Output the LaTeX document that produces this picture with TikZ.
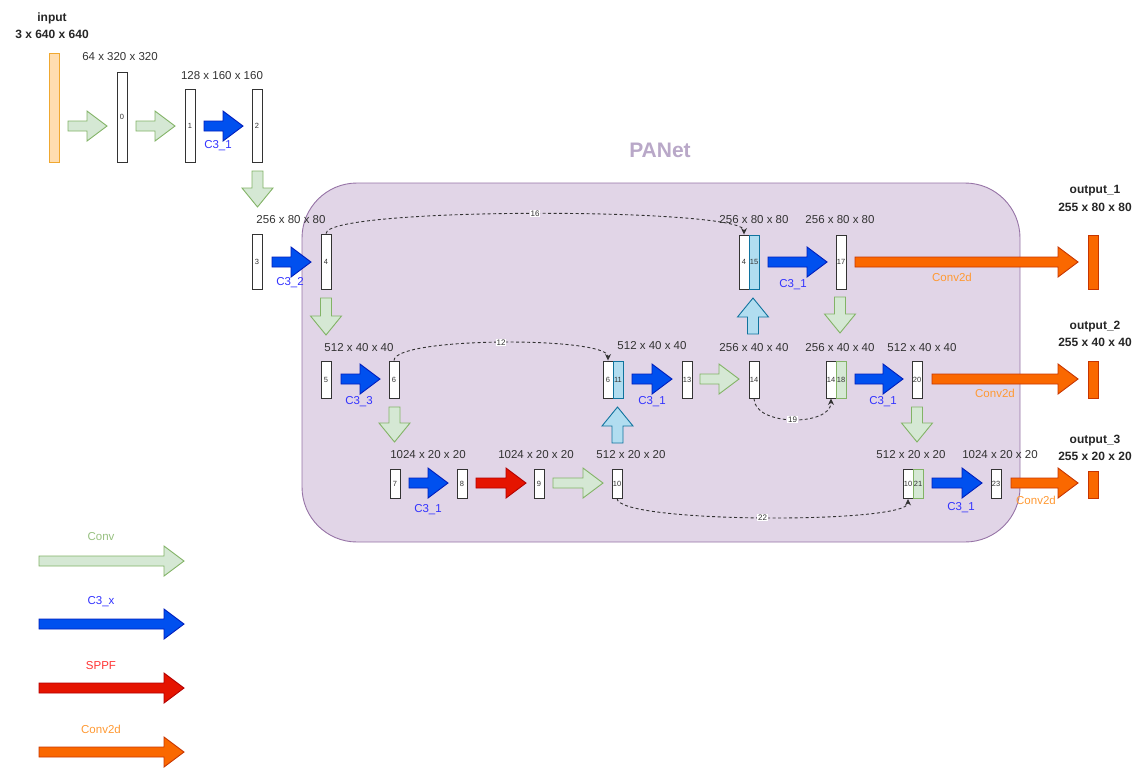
\documentclass[tikz,border=0pt]{standalone}
\usepackage{fontspec}
\setmainfont{Liberation Sans}
\usetikzlibrary{arrows.meta}
\definecolor{grfill}{HTML}{D5E8D4}
\definecolor{grline}{HTML}{82B366}
\definecolor{blfill}{HTML}{0050EF}
\definecolor{blline}{HTML}{001DBC}
\definecolor{rdfill}{HTML}{E51400}
\definecolor{rdline}{HTML}{B20000}
\definecolor{orfill}{HTML}{FA6800}
\definecolor{orline}{HTML}{C73500}
\definecolor{lbfill}{HTML}{B1DDF0}
\definecolor{lbline}{HTML}{10739E}
\definecolor{pafill}{HTML}{E1D5E7}
\definecolor{paline}{HTML}{9673A6}
\definecolor{patext}{HTML}{B9A8C8}
\definecolor{txt}{HTML}{333333}
\definecolor{inpfill}{HTML}{FFDDB0}
\definecolor{inpline}{HTML}{F0A830}
\definecolor{c3txt}{HTML}{3333FF}
\definecolor{convtxt}{HTML}{97C080}
\definecolor{spptxt}{HTML}{FF3333}
\definecolor{c2dtxt}{HTML}{FF9933}
\newcommand{\rarrow}[4][]{\draw[#1] (#2,#4-5) -- (#3-20,#4-5) -- (#3-20,#4-15) -- (#3,#4) -- (#3-20,#4+15) -- (#3-20,#4+5) -- (#2,#4+5) -- cycle;}
\newcommand{\darrow}[4][]{\draw[#1] (#2-5.5,#3) -- (#2+5.5,#3) -- (#2+5.5,#4-19) -- (#2+15.5,#4-19) -- (#2,#4) -- (#2-15.5,#4-19) -- (#2-5.5,#4-19) -- cycle;}
\newcommand{\uarrow}[4][]{\draw[#1] (#2-5.5,#4) -- (#2+5.5,#4) -- (#2+5.5,#3+19) -- (#2+15.5,#3+19) -- (#2,#3) -- (#2-15.5,#3+19) -- (#2-5.5,#3+19) -- cycle;}
\begin{document}
\begin{tikzpicture}[x=1pt,y=-1pt,
  conv/.style={fill=grfill,draw=grline,line width=0.9pt},
  cthree/.style={fill=blfill,draw=blline,line width=0.9pt},
  sppf/.style={fill=rdfill,draw=rdline,line width=0.9pt},
  ctwod/.style={fill=orfill,draw=orline,line width=0.9pt},
  upst/.style={fill=lbfill,draw=lbline,line width=0.9pt},
  box/.style={draw=txt,fill=white,line width=0.9pt,inner sep=0pt,minimum width=10pt,font=\fontsize{7.5}{7.5}\selectfont,text=txt},
  bluebox/.style={box,fill=lbfill,draw=lbline},
  greenbox/.style={box,fill=grfill,draw=grline},
  outbox/.style={box,fill=orfill,draw=orline},
  size/.style={font=\fontsize{11.5}{13}\selectfont,text=txt,inner sep=0pt},
  head/.style={font=\bfseries\fontsize{12}{13}\selectfont,text=black!85,inner sep=0pt},
  clab/.style={font=\fontsize{11.5}{13}\selectfont,text=c3txt,inner sep=0pt},
  olab/.style={font=\fontsize{11.5}{13}\selectfont,text=c2dtxt,inner sep=0pt},
  skip/.style={dash pattern=on 3pt off 2.5pt,draw=black!80,line width=0.9pt},
  tip/.style={-{Stealth[length=6.5pt,width=6pt]}},
  skl/.style={fill=white,inner sep=0.6pt,font=\fontsize{8}{8}\selectfont,text=txt}]
\useasboundingbox (0,0) rectangle (1145,777);
% PANet area
\node[font=\bfseries\fontsize{21}{24}\selectfont,text=patext,inner sep=0pt] (panet) at (660,150) {PANet};
\draw[fill=pafill,draw=paline,line width=0.9pt,rounded corners=55pt] (302,183) rectangle (1020,542);
% texts top
\node[head] (tin1) at (52,18) {input};
\node[head] (tin2) at (52,34) {3 x 640 x 640};
\node[size] (s0) at (120,57) {64 x 320 x 320};
\node[size] (s1) at (222,76) {128 x 160 x 160};
\node[size] (s3) at (291,220) {256 x 80 x 80};
\node[size] (s5) at (359,348) {512 x 40 x 40};
\node[size] (s11) at (652,346) {512 x 40 x 40};
\node[size] (s7) at (428,455) {1024 x 20 x 20};
\node[size] (s9) at (536,455) {1024 x 20 x 20};
\node[size] (s10) at (631,455) {512 x 20 x 20};
\node[size] (s15) at (754,220) {256 x 80 x 80};
\node[size] (s17) at (840,220) {256 x 80 x 80};
\node[size] (s14) at (754,348) {256 x 40 x 40};
\node[size] (s18) at (840,348) {256 x 40 x 40};
\node[size] (s20) at (922,348) {512 x 40 x 40};
\node[size] (s21) at (911,455) {512 x 20 x 20};
\node[size] (s23) at (1000,455) {1024 x 20 x 20};
\node[head] (o1a) at (1095,191) {output\_1};
\node[head] (o1b) at (1095,207) {255 x 80 x 80};
\node[head] (o2a) at (1095,327) {output\_2};
\node[head] (o2b) at (1095,342) {255 x 40 x 40};
\node[head] (o3a) at (1095,441) {output\_3};
\node[head] (o3b) at (1095,456) {255 x 20 x 20};
% feature maps
\node[box,fill=inpfill,draw=inpline,minimum height=109pt] (inp) at (54,107.5) {};
\node[box,minimum height=90pt] (b0) at (122,117) {0};
\node[box,minimum height=73pt] (b1) at (190,125.5) {1};
\node[box,minimum height=73pt] (b2) at (257,125.5) {2};
\node[box,minimum height=55pt] (b3) at (257,261.5) {3};
\node[box,minimum height=55pt] (b4) at (326,261.5) {4};
\node[box,minimum height=37pt] (b5) at (326,379.5) {5};
\node[box,minimum height=37pt] (b6) at (394,379.5) {6};
\node[box,minimum height=29pt] (b7) at (395,483.5) {7};
\node[box,minimum height=29pt] (b8) at (462,483.5) {8};
\node[box,minimum height=29pt] (b9) at (539,483.5) {9};
\node[box,minimum height=29pt] (b10) at (617,483.5) {10};
\node[box,minimum height=37pt] (b6b) at (608,379.5) {6};
\node[bluebox,minimum height=37pt] (b11) at (618,379.5) {11};
\node[box,minimum height=37pt] (b13) at (687,379.5) {13};
\node[box,minimum height=37pt] (b14) at (754,379.5) {14};
\node[box,minimum height=54pt] (b4b) at (744,262) {4};
\node[bluebox,minimum height=54pt] (b15) at (754,262) {15};
\node[box,minimum height=54pt] (b17) at (841,262) {17};
\node[box,minimum height=37pt] (b14b) at (831,379.5) {14};
\node[greenbox,minimum height=37pt] (b18) at (841,379.5) {18};
\node[box,minimum height=37pt] (b20) at (917,379.5) {20};
\node[box,minimum height=29pt] (b10b) at (908,484) {10};
\node[greenbox,minimum height=29pt] (b21) at (918,484) {21};
\node[box,minimum height=29pt] (b23) at (996,484) {23};
\node[outbox,minimum height=54pt] (out1) at (1093,262) {};
\node[outbox,minimum height=37pt] (out2) at (1093,379.5) {};
\node[outbox,minimum height=27pt] (out3) at (1093,484.5) {};
% block arrows
\rarrow[conv]{68}{107}{126}
\rarrow[conv]{136}{175}{126}
\rarrow[cthree]{204}{243}{126}
\darrow[conv]{257.5}{171}{207}
\rarrow[cthree]{272}{311}{262}
\darrow[conv]{326}{298}{335}
\rarrow[cthree]{341}{380}{379}
\darrow[conv]{394.5}{407}{442}
\rarrow[cthree]{409}{448}{483}
\rarrow[sppf]{476}{526}{483}
\rarrow[conv]{553}{603}{483}
\uarrow[upst]{617.5}{407}{443}
\rarrow[cthree]{632}{672}{379}
\rarrow[conv]{700}{739}{379}
\uarrow[upst]{753}{298}{334}
\rarrow[cthree]{768}{827}{262}
\rarrow[ctwod]{855}{1078}{262}
\darrow[conv]{840}{297}{333}
\rarrow[cthree]{855}{903}{379}
\rarrow[ctwod]{932}{1078}{379}
\darrow[conv]{917}{407}{442}
\rarrow[cthree]{932}{982}{483}
\rarrow[ctwod]{1011}{1078}{483}
% arrow labels
\node[clab] (l1) at (218,146) {C3\_1};
\node[clab] (l2) at (290,283) {C3\_2};
\node[clab] (l3) at (359,402) {C3\_3};
\node[clab] (l4) at (428,510) {C3\_1};
\node[clab] (l5) at (652,402) {C3\_1};
\node[clab] (l6) at (793,285) {C3\_1};
\node[clab] (l7) at (883,402) {C3\_1};
\node[clab] (l8) at (961,508) {C3\_1};
\node[olab] (c1) at (952,277) {Conv2d};
\node[olab] (c2) at (995,393) {Conv2d};
\node[olab] (c3) at (1036,500) {Conv2d};
% skip connections
\draw[skip,tip] (b4.north) .. controls +(0,-27) and +(0,-27) .. node[skl,pos=0.5] {16} (b4b.north);
\draw[skip,tip] (b6.north) .. controls +(0,-24) and +(0,-24) .. node[skl,pos=0.5] {12} (b6b.north);
\draw[skip,tip] (b14.south) .. controls +(0,28) and +(0,28) .. node[skl,pos=0.5] {19} (b14b.south);
\draw[skip,tip] (b10.south) .. controls +(0,25) and +(0,25) .. node[skl,pos=0.5] {22} (b10b.south);
% legend
\rarrow[conv]{39}{184}{561}
\rarrow[cthree]{39}{184}{624}
\rarrow[sppf]{39}{184}{688}
\rarrow[ctwod]{39}{184}{752}
\node[font=\fontsize{11.5}{13}\selectfont,text=convtxt,inner sep=0pt] (lg1) at (101,537) {Conv};
\node[font=\fontsize{11.5}{13}\selectfont,text=c3txt,inner sep=0pt] (lg2) at (101,602) {C3\_x};
\node[font=\fontsize{11.5}{13}\selectfont,text=spptxt,inner sep=0pt] (lg3) at (101,666) {SPPF};
\node[font=\fontsize{11.5}{13}\selectfont,text=c2dtxt,inner sep=0pt] (lg4) at (101,729) {Conv2d};
\end{tikzpicture}
\end{document}
